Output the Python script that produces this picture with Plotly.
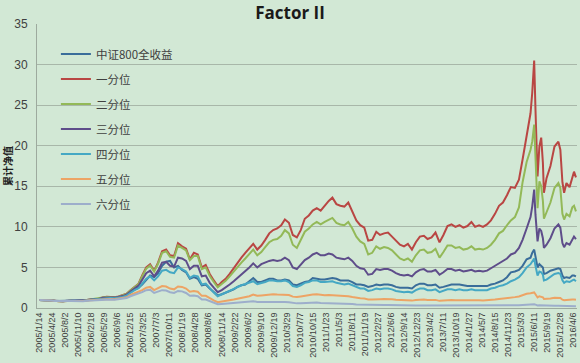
import plotly.graph_objects as go

dates = [
    "2005-01-14", "2005-02-15", "2005-03-15", "2005-04-15", "2005-05-15", "2005-06-15", "2005-07-15", "2005-08-15", "2005-09-15", "2005-10-15", "2005-11-15", "2005-12-15",
    "2006-01-15", "2006-02-15", "2006-03-15", "2006-04-15", "2006-05-15", "2006-06-15", "2006-07-15", "2006-08-15", "2006-09-15", "2006-10-15", "2006-11-15", "2006-12-15",
    "2007-01-15", "2007-02-15", "2007-03-15", "2007-04-15", "2007-05-15", "2007-06-15", "2007-07-15", "2007-08-15", "2007-09-15", "2007-10-15", "2007-11-15", "2007-12-15",
    "2008-01-15", "2008-02-15", "2008-03-15", "2008-04-15", "2008-05-15", "2008-06-15", "2008-07-15", "2008-08-15", "2008-09-15", "2008-10-15", "2008-11-15", "2008-12-15",
    "2009-01-15", "2009-02-15", "2009-03-15", "2009-04-15", "2009-05-15", "2009-06-15", "2009-07-15", "2009-08-15", "2009-09-15", "2009-10-15", "2009-11-15", "2009-12-15",
    "2010-01-15", "2010-02-15", "2010-03-15", "2010-04-15", "2010-05-15", "2010-06-15", "2010-07-15", "2010-08-15", "2010-09-15", "2010-10-15", "2010-11-15", "2010-12-15",
    "2011-01-15", "2011-02-15", "2011-03-15", "2011-04-15", "2011-05-15", "2011-06-15", "2011-07-15", "2011-08-15", "2011-09-15", "2011-10-15", "2011-11-15", "2011-12-15",
    "2012-01-15", "2012-02-15", "2012-03-15", "2012-04-15", "2012-05-15", "2012-06-15", "2012-07-15", "2012-08-15", "2012-09-15", "2012-10-15", "2012-11-15", "2012-12-15",
    "2013-01-15", "2013-02-15", "2013-03-15", "2013-04-15", "2013-05-15", "2013-06-15", "2013-07-15", "2013-08-15", "2013-09-15", "2013-10-15", "2013-11-15", "2013-12-15",
    "2014-01-15", "2014-02-15", "2014-03-15", "2014-04-15", "2014-05-15", "2014-06-15", "2014-07-15", "2014-08-15", "2014-09-15", "2014-10-15", "2014-11-15", "2014-12-15",
    "2015-01-15", "2015-02-15", "2015-03-15", "2015-04-15",
    "2015-05-15", "2015-05-28", "2015-06-12", "2015-06-22", "2015-07-08", "2015-07-22", "2015-08-05", "2015-08-18", "2015-08-26",
    "2015-09-15", "2015-10-15", "2015-11-15", "2015-12-15", "2015-12-30",
    "2016-01-15", "2016-01-28", "2016-02-15", "2016-03-10", "2016-03-31", "2016-04-13", "2016-04-28",
]

csi800 = [
    1.00, 0.99, 0.96, 0.92, 0.86, 0.84, 0.84, 0.88, 0.89, 0.86, 0.86, 0.88,
    0.95, 0.99, 1.00, 1.07, 1.22, 1.28, 1.22, 1.22, 1.30, 1.38, 1.55, 2.00,
    2.30, 2.50, 2.90, 3.50, 4.00, 3.80, 4.30, 5.20, 5.70, 5.80, 5.00, 5.20,
    4.70, 4.40, 3.60, 3.80, 3.60, 2.80, 2.90, 2.40, 2.00, 1.55, 1.70, 1.85,
    2.10, 2.30, 2.60, 2.80, 2.90, 3.30, 3.70, 3.20, 3.20, 3.40, 3.60, 3.60,
    3.40, 3.40, 3.50, 3.40, 2.90, 2.80, 3.00, 3.20, 3.30, 3.70, 3.60, 3.50,
    3.50, 3.60, 3.70, 3.60, 3.40, 3.40, 3.40, 3.20, 2.90, 2.90, 2.80, 2.60,
    2.70, 2.90, 2.80, 2.90, 2.90, 2.80, 2.60, 2.50, 2.50, 2.50, 2.40, 2.80,
    3.00, 3.00, 2.80, 2.80, 2.90, 2.50, 2.60, 2.80, 2.90, 2.90, 2.90, 2.80,
    2.70, 2.70, 2.70, 2.70, 2.70, 2.70, 2.90, 3.00, 3.20, 3.40, 3.80, 4.40,
    4.50, 4.70, 5.20, 6.00,
    6.20, 6.80, 7.20, 6.30, 5.00, 5.40, 5.20, 5.00, 4.20,
    4.30, 4.60, 4.80, 4.90, 4.80,
    4.00, 3.70, 3.80, 3.70, 4.00, 4.00, 3.90,
]

q1 = [
    1.00, 1.02, 0.97, 0.93, 0.86, 0.84, 0.82, 0.88, 0.90, 0.86, 0.88, 0.92,
    1.00, 1.06, 1.08, 1.15, 1.30, 1.38, 1.35, 1.32, 1.42, 1.55, 1.75, 2.20,
    2.60, 3.00, 4.00, 5.00, 5.40, 4.60, 5.60, 7.00, 7.20, 6.50, 6.40, 8.00,
    7.60, 7.30, 6.00, 6.80, 6.60, 5.00, 5.30, 4.20, 3.40, 2.70, 3.20, 3.60,
    4.20, 4.90, 5.60, 6.20, 6.80, 7.30, 7.90, 7.20, 7.70, 8.40, 9.20, 9.60,
    9.80, 10.20, 10.90, 10.50, 9.00, 8.70, 9.60, 11.00, 11.40, 12.00, 12.30, 12.00,
    12.60, 13.20, 13.60, 12.80, 12.60, 12.50, 13.00, 12.00, 10.80, 10.20, 9.90, 8.30,
    8.40, 9.40, 9.00, 9.20, 9.30, 8.80, 8.30, 7.80, 7.60, 7.90, 7.20, 8.10,
    8.80, 8.90, 8.50, 8.70, 9.30, 8.10, 9.00, 10.10, 10.30, 10.00, 10.20, 9.90,
    10.10, 10.60, 10.00, 10.20, 10.00, 10.30, 10.80, 11.60, 12.60, 13.00, 13.90, 14.90,
    14.80, 15.80, 18.30, 21.50,
    24.00, 26.50, 30.50, 24.50, 16.20, 19.90, 21.00, 17.90, 14.20,
    16.00, 17.50, 19.90, 20.50, 19.50,
    15.50, 14.20, 15.40, 14.90, 16.30, 16.80, 16.10,
]

q2 = [
    1.00, 1.01, 0.97, 0.93, 0.86, 0.84, 0.83, 0.88, 0.90, 0.86, 0.87, 0.91,
    0.99, 1.05, 1.07, 1.14, 1.28, 1.35, 1.33, 1.30, 1.40, 1.52, 1.72, 2.15,
    2.55, 2.95, 3.90, 4.85, 5.25, 4.50, 5.45, 6.80, 7.00, 6.30, 6.20, 7.70,
    7.40, 7.10, 5.90, 6.40, 6.40, 4.80, 5.00, 3.95, 3.20, 2.55, 2.95, 3.35,
    3.90, 4.50, 5.10, 5.60, 6.10, 6.60, 7.20, 6.50, 6.90, 7.50, 8.10, 8.40,
    8.50, 8.90, 9.60, 9.20, 7.80, 7.40, 8.30, 9.40, 9.80, 10.30, 10.60, 10.30,
    10.60, 10.90, 11.10, 10.50, 10.30, 10.20, 10.60, 9.80, 8.80, 8.20, 7.90, 6.60,
    6.80, 7.60, 7.30, 7.50, 7.40, 7.10, 6.60, 6.10, 5.90, 6.10, 5.70, 6.50,
    7.10, 7.20, 6.80, 6.90, 7.30, 6.20, 6.90, 7.70, 7.70, 7.40, 7.50, 7.20,
    7.30, 7.60, 7.20, 7.30, 7.20, 7.40, 7.80, 8.40, 9.20, 9.50, 10.20, 10.80,
    11.20, 12.40, 15.50, 18.00,
    19.50, 20.50, 22.60, 18.00, 12.30, 15.60, 15.00, 13.20, 11.00,
    11.80, 13.00, 14.80, 15.40, 14.80,
    11.60, 10.90, 11.60, 11.30, 12.40, 12.60, 11.90,
]

q3 = [
    1.00, 1.01, 0.97, 0.93, 0.87, 0.85, 0.83, 0.88, 0.90, 0.87, 0.88, 0.91,
    0.98, 1.04, 1.06, 1.12, 1.25, 1.32, 1.30, 1.28, 1.36, 1.47, 1.65, 2.05,
    2.40, 2.75, 3.50, 4.30, 4.60, 3.90, 4.60, 5.60, 5.70, 5.20, 5.10, 6.20,
    6.10, 5.80, 4.80, 5.20, 5.20, 3.90, 4.00, 3.10, 2.50, 1.95, 2.20, 2.50,
    2.90, 3.30, 3.70, 4.10, 4.50, 5.00, 5.50, 5.00, 5.40, 5.60, 5.80, 5.90,
    5.80, 5.90, 6.20, 5.90, 5.00, 4.80, 5.30, 5.90, 6.20, 6.60, 6.80, 6.50,
    6.50, 6.70, 6.60, 6.20, 6.10, 6.00, 6.20, 5.80, 5.20, 4.90, 4.80, 4.10,
    4.20, 4.80, 4.70, 4.80, 4.80, 4.60, 4.30, 4.10, 4.00, 4.10, 3.90, 4.40,
    4.70, 4.80, 4.50, 4.50, 4.70, 4.10, 4.40, 4.80, 4.80, 4.60, 4.70, 4.50,
    4.60, 4.70, 4.50, 4.60, 4.50, 4.60, 4.90, 5.20, 5.60, 5.80, 6.10, 6.60,
    6.80, 7.40, 8.40, 9.80,
    11.20, 12.50, 14.60, 11.50, 8.20, 9.80, 9.50, 8.60, 7.40,
    7.80, 8.60, 9.80, 10.30, 9.90,
    8.00, 7.50, 8.00, 7.80, 8.50, 8.80, 8.50,
]

q4 = [
    1.00, 1.00, 0.96, 0.92, 0.86, 0.84, 0.83, 0.87, 0.89, 0.86, 0.86, 0.89,
    0.96, 1.01, 1.02, 1.08, 1.20, 1.26, 1.22, 1.21, 1.28, 1.36, 1.52, 1.88,
    2.20, 2.45, 3.00, 3.60, 3.90, 3.40, 3.90, 4.60, 4.70, 4.40, 4.30, 5.00,
    4.80, 4.50, 3.70, 4.00, 3.90, 2.90, 3.00, 2.40, 1.90, 1.45, 1.65, 1.85,
    2.10, 2.35, 2.60, 2.80, 2.95, 3.10, 3.30, 2.95, 3.05, 3.20, 3.40, 3.40,
    3.30, 3.30, 3.40, 3.20, 2.70, 2.60, 2.80, 3.10, 3.20, 3.40, 3.40, 3.20,
    3.20, 3.30, 3.30, 3.10, 3.00, 2.90, 3.00, 2.80, 2.50, 2.40, 2.40, 2.10,
    2.20, 2.40, 2.30, 2.40, 2.40, 2.30, 2.10, 2.00, 1.95, 2.00, 1.90, 2.20,
    2.40, 2.40, 2.20, 2.20, 2.30, 1.95, 2.10, 2.30, 2.30, 2.20, 2.30, 2.20,
    2.20, 2.30, 2.20, 2.20, 2.20, 2.20, 2.40, 2.50, 2.70, 2.80, 3.00, 3.30,
    3.50, 3.80, 4.30, 5.00,
    5.40, 5.80, 6.10, 5.20, 4.00, 4.50, 4.40, 4.10, 3.40,
    3.50, 3.80, 4.20, 4.30, 4.20,
    3.40, 3.10, 3.30, 3.20, 3.40, 3.50, 3.30,
]

q5 = [
    1.00, 0.99, 0.95, 0.91, 0.85, 0.83, 0.82, 0.86, 0.87, 0.84, 0.84, 0.86,
    0.92, 0.96, 0.97, 1.01, 1.10, 1.14, 1.10, 1.09, 1.14, 1.20, 1.32, 1.60,
    1.80, 1.95, 2.20, 2.50, 2.60, 2.20, 2.40, 2.70, 2.65, 2.40, 2.30, 2.65,
    2.60, 2.40, 2.00, 2.10, 2.00, 1.50, 1.50, 1.20, 0.95, 0.72, 0.78, 0.85,
    0.95, 1.05, 1.15, 1.25, 1.35, 1.45, 1.65, 1.50, 1.55, 1.60, 1.68, 1.70,
    1.65, 1.65, 1.68, 1.60, 1.40, 1.35, 1.42, 1.52, 1.55, 1.65, 1.68, 1.60,
    1.58, 1.60, 1.58, 1.52, 1.46, 1.44, 1.46, 1.36, 1.24, 1.20, 1.18, 1.06,
    1.06, 1.12, 1.09, 1.11, 1.11, 1.07, 1.01, 0.97, 0.95, 0.96, 0.91, 0.98,
    1.04, 1.04, 0.98, 0.97, 1.00, 0.88, 0.92, 0.98, 0.98, 0.96, 0.97, 0.94,
    0.94, 0.96, 0.93, 0.94, 0.93, 0.94, 1.00, 1.04, 1.10, 1.14, 1.20, 1.30,
    1.34, 1.42, 1.57, 1.76,
    1.82, 1.88, 1.92, 1.70, 1.30, 1.45, 1.42, 1.32, 1.12,
    1.12, 1.18, 1.26, 1.28, 1.24,
    1.02, 0.95, 1.00, 0.98, 1.04, 1.05, 1.02,
]

q6 = [
    1.00, 0.99, 0.95, 0.91, 0.85, 0.82, 0.81, 0.85, 0.86, 0.83, 0.83, 0.84,
    0.90, 0.93, 0.94, 0.97, 1.05, 1.08, 1.04, 1.03, 1.07, 1.12, 1.22, 1.45,
    1.62, 1.75, 1.95, 2.20, 2.25, 1.85, 2.00, 2.20, 2.15, 1.95, 1.85, 2.10,
    2.05, 1.85, 1.50, 1.55, 1.45, 1.05, 1.05, 0.82, 0.64, 0.46, 0.50, 0.54,
    0.58, 0.63, 0.68, 0.72, 0.74, 0.78, 0.84, 0.74, 0.74, 0.77, 0.80, 0.80,
    0.76, 0.75, 0.75, 0.70, 0.60, 0.57, 0.60, 0.63, 0.64, 0.67, 0.67, 0.62,
    0.61, 0.61, 0.60, 0.56, 0.53, 0.51, 0.52, 0.48, 0.43, 0.41, 0.40, 0.35,
    0.35, 0.37, 0.36, 0.36, 0.36, 0.34, 0.32, 0.30, 0.29, 0.29, 0.27, 0.30,
    0.31, 0.31, 0.29, 0.28, 0.29, 0.25, 0.26, 0.27, 0.27, 0.26, 0.26, 0.25,
    0.25, 0.25, 0.24, 0.24, 0.24, 0.24, 0.25, 0.26, 0.27, 0.28, 0.29, 0.31,
    0.31, 0.33, 0.36, 0.41,
    0.43, 0.45, 0.47, 0.41, 0.31, 0.34, 0.33, 0.31, 0.26,
    0.26, 0.27, 0.29, 0.29, 0.28,
    0.23, 0.21, 0.22, 0.22, 0.23, 0.23, 0.22,
]

series_names = ["中证800全收益", "一分位", "二分位", "三分位", "四分位", "五分位", "六分位"]
series_values = [csi800, q1, q2, q3, q4, q5, q6]
series_colors = ["#3A6D9A", "#B94643", "#93B958", "#5E4D8A", "#45A8C4", "#EDA465", "#9DAECB"]

tick_labels = [
    "2005/1/14", "2005/4/24", "2005/8/2", "2005/11/10", "2006/2/18", "2006/5/29", "2006/9/6",
    "2006/12/15", "2007/3/25", "2007/7/3", "2007/10/11", "2008/1/19", "2008/4/28", "2008/8/6",
    "2008/11/14", "2009/2/22", "2009/6/2", "2009/9/10", "2009/12/19", "2010/3/29", "2010/7/7",
    "2010/10/15", "2011/1/23", "2011/5/3", "2011/8/11", "2011/11/19", "2012/2/27", "2012/6/6",
    "2012/9/14", "2012/12/23", "2013/4/2", "2013/7/11", "2013/10/19", "2014/1/27", "2014/5/7",
    "2014/8/15", "2014/11/23", "2015/3/3", "2015/6/11", "2015/9/19", "2015/12/28", "2016/4/6",
]
tick_vals = [lbl.replace("/", "-") for lbl in tick_labels]

bg = "#D2E8D5"
fig = go.Figure()
for i, (name, vals, col) in enumerate(zip(series_names, series_values, series_colors)):
    fig.add_trace(go.Scatter(
        x=dates, y=vals, name=name, mode="lines",
        line=dict(color=col, width=2),
        legendgroup="g%d" % i,
    ))

fig.update_layout(
    width=580, height=363,
    margin=dict(l=37, r=3, t=24, b=55),
    paper_bgcolor=bg, plot_bgcolor=bg,
    title=dict(text="<b>Factor II</b>", x=0.5, xref="container", y=0.964, yref="container",
               xanchor="center", yanchor="middle",
               font=dict(family="Open Sans, Liberation Sans, sans-serif", size=17, color="#1a1a1a")),
    showlegend=True,
    legend=dict(x=0.035, y=0.945, xanchor="left", yanchor="top", bgcolor="rgba(0,0,0,0)",
                font=dict(family="Noto Sans CJK SC, sans-serif", size=11.5, color="#404040"),
                tracegroupgap=6, traceorder="grouped"),
    font=dict(family="Liberation Sans, sans-serif", color="#404040"),
)
fig.update_xaxes(
    type="date", range=["2004-12-27", "2016-05-06"],
    tickmode="array", tickvals=tick_vals, ticktext=tick_labels, tickangle=-90,
    tickfont=dict(size=9, color="#404040"),
    showgrid=False, showline=True, linecolor="#9DAA9E", linewidth=1,
    ticks="", automargin=False,
)
fig.update_yaxes(
    range=[0, 35], tickmode="array", tickvals=[0, 5, 10, 15, 20, 25, 30, 35],
    tickfont=dict(size=12, color="#404040"),
    showgrid=True, gridcolor="#A8B7A9", gridwidth=1,
    showline=True, linecolor="#9DAA9E", linewidth=1, zeroline=False,
    ticklabelstandoff=6,
    title=dict(text="<b>累计净值</b>", standoff=4,
               font=dict(family="Noto Sans CJK SC, sans-serif", size=10, color="#222222")),
    automargin=False,
)

fig.write_html("out.html", config={"displayModeBar": False},
               post_script="document.body.style.margin='0';document.body.style.overflow='hidden';")
